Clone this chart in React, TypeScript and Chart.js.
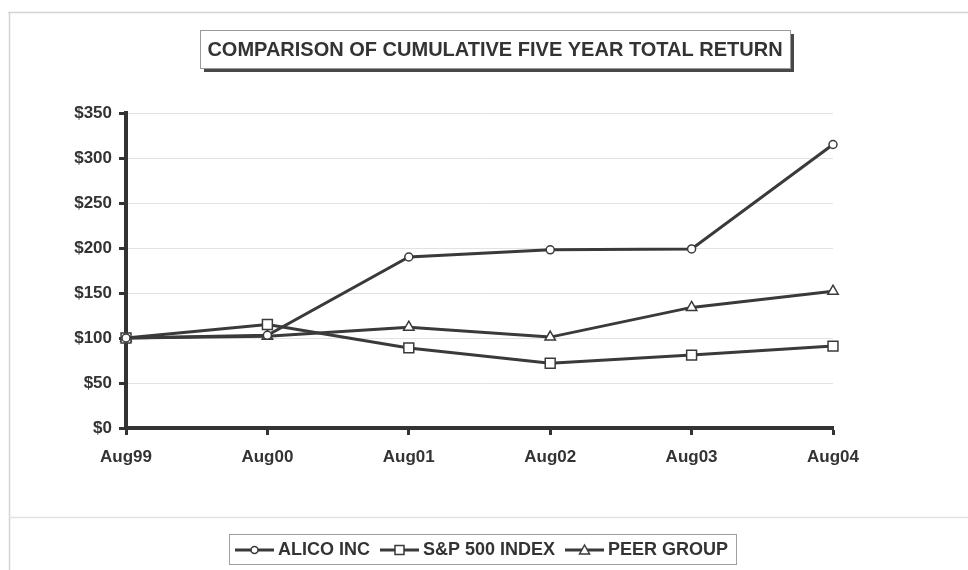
import React, { useEffect, useRef } from "react";
import { Chart, registerables } from "chart.js";

Chart.register(...registerables);

const categories = ["Aug99", "Aug00", "Aug01", "Aug02", "Aug03", "Aug04"];
const alicoValues = [100, 103, 190, 198, 199, 315];
const spValues = [100, 115, 89, 72, 81, 91];
const peerValues = [100, 102, 112, 101, 134, 152];
const seriesNames = ["ALICO INC", "S&P 500 INDEX", "PEER GROUP"];
const titleText = "COMPARISON OF CUMULATIVE FIVE YEAR TOTAL RETURN";

const FONT = "'Liberation Sans', Arial, Helvetica, sans-serif";
const INK = "#333333";
const LINE = "#3a3a3a";
const LEGEND_FONT = 18;

function makeLegendSymbol(kind: string): HTMLCanvasElement {
  const c = document.createElement("canvas");
  c.width = 39;
  c.height = 14;
  const ctx = c.getContext("2d")!;
  ctx.strokeStyle = LINE;
  ctx.lineWidth = 3;
  ctx.beginPath();
  ctx.moveTo(0, 7);
  ctx.lineTo(39, 7);
  ctx.stroke();
  ctx.fillStyle = "#ffffff";
  ctx.lineWidth = 1.5;
  ctx.beginPath();
  if (kind === "circle") {
    ctx.arc(19.5, 7, 3.5, 0, Math.PI * 2);
  } else if (kind === "rect") {
    ctx.rect(15, 2.5, 9, 9);
  } else {
    ctx.moveTo(19.5, 2);
    ctx.lineTo(24.5, 11);
    ctx.lineTo(14.5, 11);
    ctx.closePath();
  }
  ctx.fill();
  ctx.stroke();
  return c;
}

const framePlugin = {
  id: "framePlugin",
  beforeDraw(chart: any) {
    const ctx = chart.ctx;
    const W = chart.width;
    const H = chart.height;
    ctx.save();
    ctx.fillStyle = "#ffffff";
    ctx.fillRect(0, 0, W, H);
    // page frame
    ctx.strokeStyle = "#d4d4d4";
    ctx.lineWidth = 1.5;
    ctx.beginPath();
    ctx.moveTo(8, 12.5);
    ctx.lineTo(W, 12.5);
    ctx.moveTo(9.5, 12);
    ctx.lineTo(9.5, H);
    ctx.stroke();
    ctx.strokeStyle = "#e2e2e2";
    ctx.lineWidth = 1.5;
    ctx.beginPath();
    ctx.moveTo(9, 517.5);
    ctx.lineTo(W, 517.5);
    ctx.stroke();

    // title box with shadow
    const bx = 200, by = 30, bw = 590, bh = 38;
    ctx.fillStyle = "#484848";
    ctx.fillRect(bx + 4, by + 4, bw, bh);
    ctx.fillStyle = "#ffffff";
    ctx.fillRect(bx, by, bw, bh);
    ctx.strokeStyle = "#9a9a9a";
    ctx.lineWidth = 1;
    ctx.strokeRect(bx + 0.5, by + 0.5, bw, bh);
    ctx.fillStyle = INK;
    ctx.font = `bold 20px ${FONT}`;
    ctx.textAlign = "center";
    ctx.textBaseline = "middle";
    ctx.fillText(titleText, bx + bw / 2, by + bh / 2 + 1);

    // legend box
    const legend = chart.legend;
    if (legend && legend.legendHitBoxes && legend.legendHitBoxes.length) {
      const hb = legend.legendHitBoxes;
      const left = hb[0].left - 11;
      const last = hb[hb.length - 1];
      const right = last.left + last.width + 8;
      const cy = hb[0].top + hb[0].height / 2;
      ctx.strokeStyle = "#a0a0a0";
      ctx.lineWidth = 1;
      ctx.strokeRect(Math.round(left) + 0.5, Math.round(cy - 16) + 0.5, Math.round(right - left), 30);
    }
    ctx.restore();
  },
};

export default function App() {
  const ref = useRef<HTMLCanvasElement | null>(null);
  useEffect(() => {
    if (!ref.current) return;
    const symbols = [makeLegendSymbol("circle"), makeLegendSymbol("rect"), makeLegendSymbol("triangle")];
    const common = {
      borderColor: LINE,
      borderWidth: 3,
      pointBackgroundColor: "#ffffff",
      pointBorderColor: LINE,
      pointBorderWidth: 1.5,
      tension: 0,
      fill: false,
    };
    const chart = new Chart(ref.current, {
      type: "line",
      data: {
        labels: categories,
        datasets: [
          { ...common, label: seriesNames[0], data: alicoValues, pointStyle: "circle", pointRadius: 4 },
          { ...common, label: seriesNames[1], data: spValues, pointStyle: "rect", pointRadius: 7 },
          { ...common, label: seriesNames[2], data: peerValues, pointStyle: "triangle", pointRadius: 6 },
        ],
      },
      plugins: [framePlugin],
      options: {
        animation: false,
        responsive: false,
        devicePixelRatio: 1,
        layout: { padding: { top: 113, left: 0, right: 0, bottom: 1 } },
        plugins: {
          title: { display: false },
          tooltip: { enabled: false },
          legend: {
            display: true,
            position: "bottom",
            labels: {
              color: INK,
              font: { family: FONT, size: LEGEND_FONT, weight: "bold" },
              usePointStyle: true,
              pointStyleWidth: 29,
              padding: 15,
              generateLabels: (ch: any) =>
                ch.data.datasets.map((ds: any, i: number) => ({
                  text: ds.label,
                  pointStyle: symbols[i],
                  fillStyle: "#fff",
                  strokeStyle: LINE,
                  lineWidth: 0,
                  hidden: false,
                  datasetIndex: i,
                  fontColor: INK,
                })),
            },
          },
        },
        scales: {
          x: {
            type: "category",
            offset: false,
            afterFit: (s: any) => {
              s.height = 98;
            },
            grid: {
              display: true,
              drawOnChartArea: false,
              drawTicks: true,
              tickLength: 7,
              tickColor: INK,
              tickWidth: 3,
            },
            border: { display: true, color: INK, width: 4 },
            ticks: {
              color: INK,
              padding: 12,
              maxRotation: 0,
              font: { family: FONT, size: 17, weight: "bold" },
            },
          },
          y: {
            type: "linear",
            position: "left",
            min: 0,
            max: 350,
            afterFit: (s: any) => {
              s.width = 126;
            },
            grid: {
              display: true,
              drawOnChartArea: true,
              color: "#e2e2e2",
              lineWidth: 1,
              drawTicks: true,
              tickLength: 7,
              tickColor: INK,
              tickWidth: 3,
            },
            border: { display: true, color: INK, width: 4 },
            ticks: {
              stepSize: 50,
              color: INK,
              padding: 7,
              font: { family: FONT, size: 17, weight: "bold" },
              callback: (v: any) => "$" + v,
            },
          },
          yRight: {
            type: "linear",
            position: "right",
            min: 0,
            max: 350,
            afterFit: (s: any) => {
              s.width = 135;
            },
            grid: { display: false },
            border: { display: false },
            ticks: { display: false },
          },
        },
      },
    });
    return () => chart.destroy();
  }, []);

  return (
    <div style={{ position: "absolute", left: 0, top: 0, width: 968, height: 570, background: "#fff" }}>
      <canvas ref={ref} width={968} height={570} style={{ display: "block", width: 968, height: 570 }} />
    </div>
  );
}
